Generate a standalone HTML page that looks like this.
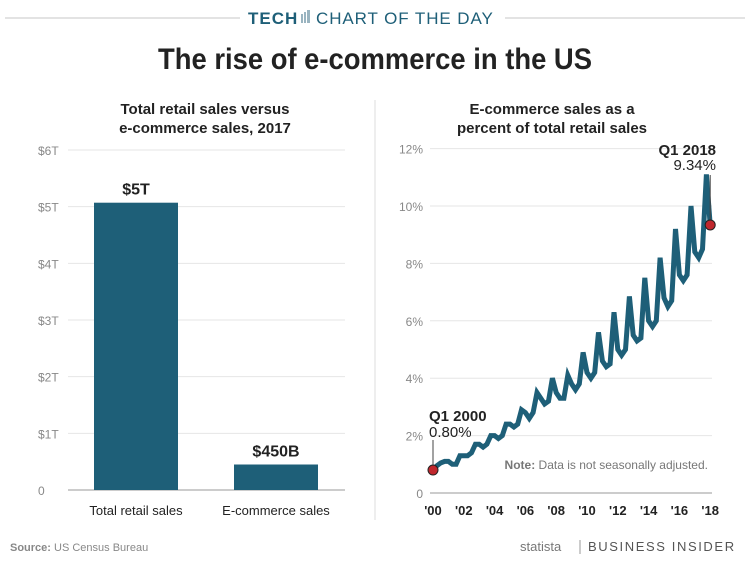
<!DOCTYPE html>
<html><head><meta charset="utf-8"><style>
body{margin:0;width:750px;height:563px;background:#fff;overflow:hidden;font-family:"Liberation Sans",sans-serif;}
svg{display:block}
</style></head><body>
<svg width="750" height="563">
<line x1="5" y1="18" x2="240" y2="18" stroke="#e3e3e3" stroke-width="2"/>
<line x1="505" y1="18" x2="745" y2="18" stroke="#e3e3e3" stroke-width="2"/>
<text x="248" y="24" font-size="17" font-weight="bold" fill="#1e5f78" letter-spacing="1">TECH</text>
<g fill="#9ab4c0"><rect x="301" y="14" width="2" height="9"/><rect x="304" y="12" width="2" height="11"/><rect x="307" y="10" width="3" height="13"/></g>
<text x="316" y="24" font-size="17" fill="#1e5f78" letter-spacing="1.2" textLength="178">CHART OF THE DAY</text>
<text x="158" y="69" font-size="30" font-weight="bold" fill="#222" textLength="434" lengthAdjust="spacingAndGlyphs">The rise of e-commerce in the US</text>
<line x1="375" y1="100" x2="375" y2="520" stroke="#ddd"/>
<text x="205" y="114" text-anchor="middle" font-size="15" font-weight="bold" fill="#222">Total retail sales versus</text>
<text x="205" y="133" text-anchor="middle" font-size="15" font-weight="bold" fill="#222">e-commerce sales, 2017</text>
<text x="552" y="114" text-anchor="middle" font-size="15" font-weight="bold" fill="#222">E-commerce sales as a</text>
<text x="552" y="133" text-anchor="middle" font-size="15" font-weight="bold" fill="#222">percent of total retail sales</text>
<g id="left"></g>
<g id="right"></g>
<text x="10" y="551" font-size="11" fill="#888"><tspan font-weight="bold">Source:</tspan> US Census Bureau</text>
<text x="520" y="551" font-size="13" fill="#777">statista</text>
<text x="588" y="551" font-size="13" fill="#555" letter-spacing="1.6">BUSINESS INSIDER</text>
<line x1="580" y1="540" x2="580" y2="554" stroke="#999"/>
</svg>
<script>
const barCats=["Total retail sales","E-commerce sales"];
const barVals=[5.07,0.45];
const barLabels=["$5T","$450B"];
const leftTicks=[0,1,2,3,4,5,6];
const leftTickLabels=["0","$1T","$2T","$3T","$4T","$5T","$6T"];
const pctVals=[0.8,0.95,1.05,1.1, 1.1,1.0,1.0,1.3, 1.3,1.3,1.4,1.7, 1.7,1.6,1.7,2.0, 2.0,1.9,2.0,2.4, 2.4,2.3,2.4,2.9, 2.8,2.6,2.8,3.5, 3.3,3.1,3.2,4.0, 3.5,3.3,3.3,4.1, 3.8,3.6,3.8,4.9, 4.2,4.0,4.2,5.6, 4.6,4.4,4.5,6.3, 5.0,4.8,5.0,6.85, 5.5,5.3,5.4,7.5, 6.0,5.8,6.0,8.2, 6.8,6.5,6.7,9.2, 7.6,7.4,7.6,10.0, 8.4,8.2,8.5,11.1, 9.34];
const startYear=2000;
const rightTicks=[0,2,4,6,8,10,12];
const rightTickLabels=["0","2%","4%","6%","8%","10%","12%"];
const yearTicks=[2000,2002,2004,2006,2008,2010,2012,2014,2016,2018];
const NS="http://www.w3.org/2000/svg";
function mk(p,t,a,txt){const e=document.createElementNS(NS,t);for(const k in a)e.setAttribute(k,a[k]);if(txt!=null)e.textContent=txt;p.appendChild(e);return e;}
const L=document.getElementById('left'),R=document.getElementById('right');
const ly=v=>490-v*340/6;
leftTicks.forEach((t,i)=>{
 const g=mk(L,'line',{x1:68,x2:345,y1:ly(t),y2:ly(t),stroke:t==0?'#ccc':'#e6e6e6','stroke-width':t==0?2:1});
 
 
 const tx=mk(L,'text',{x:38,y:ly(t)+5,'font-size':12,fill:'#888'},leftTickLabels[i]);
 
 
});
const bx=i=>94+i*140;
barCats.forEach((c,i)=>{
 const r=mk(L,'rect',{x:bx(i),y:ly(barVals[i]),width:84,height:490-ly(barVals[i]),fill:'#1e5f78'});
 
 
 const v=mk(L,'text',{x:bx(i)+42,y:ly(barVals[i])-8,'text-anchor':'middle','font-size':16,'font-weight':'bold',fill:'#222'},barLabels[i]);
 
 
 const c2=mk(L,'text',{x:bx(i)+42,y:515,'text-anchor':'middle','font-size':13,fill:'#222'},c);
 
 
});
const ry=v=>493-v*28.7;
const rx=y=>433+(y-2000)*15.4;
rightTicks.forEach((t,i)=>{
 const g=mk(R,'line',{x1:430,x2:712,y1:ry(t),y2:ry(t),stroke:t==0?'#ccc':'#e6e6e6','stroke-width':t==0?2:1});
 
 
 const tx=mk(R,'text',{x:423,y:ry(t)+5,'text-anchor':'end','font-size':12,fill:'#888'},rightTickLabels[i]);
 
 
});
yearTicks.forEach(y=>{
 const tx=mk(R,'text',{x:rx(y),y:515,'text-anchor':'middle','font-size':13,'font-weight':'bold',fill:'#222'},"'"+String(y).slice(2));
 
 
});
const pts=pctVals.map((v,i)=>rx(startYear+i/4).toFixed(1)+','+ry(v).toFixed(1)).join(' ');
const pl=mk(R,'polyline',{points:pts,fill:'none',stroke:'#1e5f78','stroke-width':5,'stroke-linejoin':'miter'});


const n=pctVals.length-1;
const x0=rx(startYear),y0=ry(pctVals[0]),x1=rx(startYear+n/4),y1=ry(pctVals[n]);
const a1=mk(R,'line',{x1:x0,x2:x0,y1:y0,y2:440,stroke:'#444'});


const a2=mk(R,'line',{x1:x1,x2:x1,y1:y1,y2:175,stroke:'#444'});


const d1=mk(R,'circle',{cx:x0,cy:y0,r:5,fill:'#c0272d',stroke:'#222'});


const d2=mk(R,'circle',{cx:x1,cy:y1,r:5,fill:'#c0272d',stroke:'#222'});


const t1=mk(R,'text',{x:429,y:421,'font-size':15,'font-weight':'bold',fill:'#222'},'Q1 2000');


const t2=mk(R,'text',{x:429,y:437,'font-size':15,fill:'#222'},pctVals[0].toFixed(2)+'%');


const t3=mk(R,'text',{x:716,y:155,'text-anchor':'end','font-size':15,'font-weight':'bold',fill:'#222'},'Q1 2018');


const t4=mk(R,'text',{x:716,y:170,'text-anchor':'end','font-size':15,fill:'#222'},pctVals[n].toFixed(2)+'%');


const nt=mk(R,'text',{x:708,y:469,'text-anchor':'end','font-size':12,fill:'#777'},'');
nt.innerHTML='<tspan font-weight="bold">Note:</tspan> Data is not seasonally adjusted.';


</script>
</body></html>
